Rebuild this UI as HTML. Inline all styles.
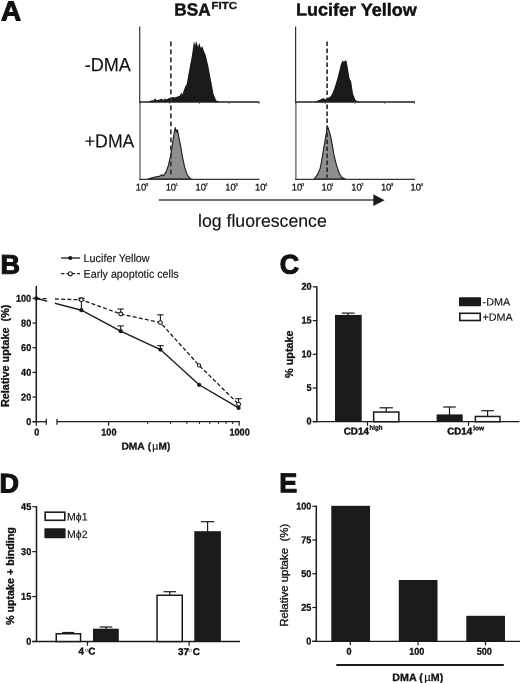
<!DOCTYPE html>
<html><head><meta charset="utf-8"><title>Figure</title>
<style>
html,body{margin:0;padding:0;background:#fff;}
svg{display:block;font-family:"Liberation Sans",sans-serif;}
.b{font-weight:bold;}
</style></head><body>
<svg width="520" height="683" viewBox="0 0 520 683">
<rect width="520" height="683" fill="#fff"/>

<text x="0.9" y="20.4" transform="rotate(0.04 0.9 20.4)" font-size="27.8" class="b" text-anchor="start" fill="#111"  stroke="#111" stroke-width="1.0" stroke-linejoin="round">A</text>
<text x="0.6" y="273.8" transform="rotate(0.04 0.6 273.8)" font-size="27" class="b" text-anchor="start" fill="#111"  stroke="#111" stroke-width="1.1" stroke-linejoin="round">B</text>
<text x="279.8" y="273.4" transform="rotate(0.04 279.8 273.4)" font-size="26.8" class="b" text-anchor="start" fill="#111"  stroke="#111" stroke-width="1.1" stroke-linejoin="round">C</text>
<text x="-0.6" y="492.4" transform="rotate(0.04 -0.6 492.4)" font-size="27" class="b" text-anchor="start" fill="#111"  stroke="#111" stroke-width="1.1" stroke-linejoin="round">D</text>
<text x="279.3" y="492.3" transform="rotate(0.04 279.3 492.3)" font-size="27" class="b" text-anchor="start" fill="#111"  stroke="#111" stroke-width="1.1" stroke-linejoin="round">E</text>
<text x="174.3" y="15.6" transform="rotate(0.04 174.3 15.6)" font-size="17.6" class="b" text-anchor="start" textLength="36.3" lengthAdjust="spacingAndGlyphs" fill="#111"  stroke="#111" stroke-width="0.45" stroke-linejoin="round">BSA</text>
<text x="211.6" y="8.9" transform="rotate(0.04 211.6 8.9)" font-size="10.2" class="b" text-anchor="start" textLength="25.5" lengthAdjust="spacingAndGlyphs" fill="#111"  stroke="#111" stroke-width="0.3" stroke-linejoin="round">FITC</text>
<text x="296" y="15.6" transform="rotate(0.04 296 15.6)" font-size="17.6" class="b" text-anchor="start" textLength="120.8" lengthAdjust="spacingAndGlyphs" fill="#111"  stroke="#111" stroke-width="0.45" stroke-linejoin="round">Lucifer Yellow</text>
<text x="84.7" y="71.3" transform="rotate(0.04 84.7 71.3)" font-size="19.1" text-anchor="start" textLength="46.2" lengthAdjust="spacingAndGlyphs" fill="#111"  stroke="#111" stroke-width="0.15" stroke-linejoin="round">-DMA</text>
<text x="84.8" y="147.5" transform="rotate(0.04 84.8 147.5)" font-size="19" text-anchor="start" textLength="49.6" lengthAdjust="spacingAndGlyphs" fill="#111"  stroke="#111" stroke-width="0.15" stroke-linejoin="round">+DMA</text>
<text x="198" y="226.7" transform="rotate(0.04 198 226.7)" font-size="17.7" text-anchor="start" textLength="128.8" lengthAdjust="spacingAndGlyphs" fill="#111"  stroke="#111" stroke-width="0.15" stroke-linejoin="round">log fluorescence</text>
<polygon points="147.8,102 151,100.6 153.5,100.2 155.3,98.2 156.5,100.3 159,99.8 161.8,98.4 163,100 165.5,98.6 166.5,99.6 168.5,98.2 171.1,97.8 173,96.9 175,97.6 177.5,96.5 180,95.5 181.2,92.5 182.4,94.6 185,86.9 186.7,84.3 189.3,69.6 191.9,55.8 194,41 195,45.4 196.2,41 198,47.1 199.2,42.8 200.9,48 202.3,46.2 204.4,52.3 205.7,54.9 208.3,66.1 210.9,80 213.5,93.8 216.1,100.2 219.6,102" fill="#1a1a1a"/>
<polygon points="147.8,179 153.8,177.3 159,176.4 162.1,174.7 163.4,175.9 166,172.1 168.5,165.2 170.8,154.8 172.9,141 174.6,130.6 175.3,127.5 176.3,132.3 177.4,129.7 178.9,137.5 180.7,146.1 182.4,156.5 184.6,166.9 187.1,174.7 190.2,178.7 191.9,179" fill="#8e8e8e" stroke="#1a1a1a" stroke-width="1.1" stroke-linejoin="round"/>
<line x1="170.9" y1="41.6" x2="170.9" y2="177.5" stroke="#2e2e2e" stroke-width="1.6" stroke-dasharray="4.6 3.4"/>
<line x1="139.7" y1="26.4" x2="139.7" y2="102.0" stroke="#333" stroke-width="1.2" />
<line x1="140.0" y1="102.0" x2="140.0" y2="179.9" stroke="#555" stroke-width="1.2" />
<line x1="139.2" y1="102.0" x2="259.5" y2="102.0" stroke="#222" stroke-width="1.3" />
<line x1="139.2" y1="179.3" x2="259.5" y2="179.3" stroke="#333" stroke-width="1.2" />
<line x1="139.7" y1="102.0" x2="139.7" y2="104.0" stroke="#555" stroke-width="0.8" />
<text x="135.79999999999998" y="190.4" transform="rotate(0.04 135.79999999999998 190.4)" font-size="9.7" text-anchor="start" textLength="10.5" lengthAdjust="spacingAndGlyphs" fill="#111" stroke="#111" stroke-width="0.25" stroke="#111" stroke-width="0.15" stroke-linejoin="round">10</text>
<text x="145.7" y="185.9" transform="rotate(0.04 145.7 185.9)" font-size="4.4" text-anchor="start" textLength="2.5" lengthAdjust="spacingAndGlyphs" fill="#111" stroke="#111" stroke-width="0.2" stroke="#111" stroke-width="0.15" stroke-linejoin="round">0</text>
<line x1="169.52499999999998" y1="102.0" x2="169.52499999999998" y2="104.0" stroke="#555" stroke-width="0.8" />
<text x="165.62499999999997" y="190.4" transform="rotate(0.04 165.62499999999997 190.4)" font-size="9.7" text-anchor="start" textLength="10.5" lengthAdjust="spacingAndGlyphs" fill="#111" stroke="#111" stroke-width="0.25" stroke="#111" stroke-width="0.15" stroke-linejoin="round">10</text>
<text x="175.52499999999998" y="185.9" transform="rotate(0.04 175.52499999999998 185.9)" font-size="4.4" text-anchor="start" textLength="2.5" lengthAdjust="spacingAndGlyphs" fill="#111" stroke="#111" stroke-width="0.2" stroke="#111" stroke-width="0.15" stroke-linejoin="round">1</text>
<line x1="199.35" y1="102.0" x2="199.35" y2="104.0" stroke="#555" stroke-width="0.8" />
<text x="195.45" y="190.4" transform="rotate(0.04 195.45 190.4)" font-size="9.7" text-anchor="start" textLength="10.5" lengthAdjust="spacingAndGlyphs" fill="#111" stroke="#111" stroke-width="0.25" stroke="#111" stroke-width="0.15" stroke-linejoin="round">10</text>
<text x="205.35" y="185.9" transform="rotate(0.04 205.35 185.9)" font-size="4.4" text-anchor="start" textLength="2.5" lengthAdjust="spacingAndGlyphs" fill="#111" stroke="#111" stroke-width="0.2" stroke="#111" stroke-width="0.15" stroke-linejoin="round">2</text>
<line x1="229.175" y1="102.0" x2="229.175" y2="104.0" stroke="#555" stroke-width="0.8" />
<text x="225.275" y="190.4" transform="rotate(0.04 225.275 190.4)" font-size="9.7" text-anchor="start" textLength="10.5" lengthAdjust="spacingAndGlyphs" fill="#111" stroke="#111" stroke-width="0.25" stroke="#111" stroke-width="0.15" stroke-linejoin="round">10</text>
<text x="235.175" y="185.9" transform="rotate(0.04 235.175 185.9)" font-size="4.4" text-anchor="start" textLength="2.5" lengthAdjust="spacingAndGlyphs" fill="#111" stroke="#111" stroke-width="0.2" stroke="#111" stroke-width="0.15" stroke-linejoin="round">3</text>
<line x1="259.0" y1="102.0" x2="259.0" y2="104.0" stroke="#555" stroke-width="0.8" />
<text x="255.1" y="190.4" transform="rotate(0.04 255.1 190.4)" font-size="9.7" text-anchor="start" textLength="10.5" lengthAdjust="spacingAndGlyphs" fill="#111" stroke="#111" stroke-width="0.25" stroke="#111" stroke-width="0.15" stroke-linejoin="round">10</text>
<text x="265.0" y="185.9" transform="rotate(0.04 265.0 185.9)" font-size="4.4" text-anchor="start" textLength="2.5" lengthAdjust="spacingAndGlyphs" fill="#111" stroke="#111" stroke-width="0.2" stroke="#111" stroke-width="0.15" stroke-linejoin="round">4</text>
<polygon points="314,102 319.2,99.9 323.5,98.1 325.3,99.4 327.9,98.1 330.5,96.4 332.2,93.8 334.8,86.9 337.4,78.3 339.6,69.6 340.8,64.4 342.6,60.6 344,61.8 345.2,60.6 346.6,61 347.8,67.9 349.5,78.3 351.2,81.7 353,93.8 355.6,100.2 359.9,102" fill="#1a1a1a"/>
<polygon points="314,179 317.5,174.7 320.1,168.6 321.8,160 323.5,149.6 325.3,139.2 326.7,131.4 327.5,126.2 328.7,129.7 330.5,135.8 332.2,144.4 333.9,154.8 336.5,165.2 339.1,173 341.7,177.3 345.2,179" fill="#8e8e8e" stroke="#1a1a1a" stroke-width="1.1" stroke-linejoin="round"/>
<line x1="327.1" y1="41.6" x2="327.1" y2="177.5" stroke="#262626" stroke-width="1.6" stroke-dasharray="4.4 2.6"/>
<line x1="295.6" y1="26.4" x2="295.6" y2="102.0" stroke="#333" stroke-width="1.2" />
<line x1="295.90000000000003" y1="102.0" x2="295.90000000000003" y2="179.9" stroke="#555" stroke-width="1.2" />
<line x1="295.1" y1="102.0" x2="415" y2="102.0" stroke="#222" stroke-width="1.3" />
<line x1="295.1" y1="179.3" x2="415" y2="179.3" stroke="#333" stroke-width="1.2" />
<line x1="295.6" y1="102.0" x2="295.6" y2="104.0" stroke="#555" stroke-width="0.8" />
<text x="291.70000000000005" y="190.4" transform="rotate(0.04 291.70000000000005 190.4)" font-size="9.7" text-anchor="start" textLength="10.5" lengthAdjust="spacingAndGlyphs" fill="#111" stroke="#111" stroke-width="0.25" stroke="#111" stroke-width="0.15" stroke-linejoin="round">10</text>
<text x="301.6" y="185.9" transform="rotate(0.04 301.6 185.9)" font-size="4.4" text-anchor="start" textLength="2.5" lengthAdjust="spacingAndGlyphs" fill="#111" stroke="#111" stroke-width="0.2" stroke="#111" stroke-width="0.15" stroke-linejoin="round">0</text>
<line x1="325.32500000000005" y1="102.0" x2="325.32500000000005" y2="104.0" stroke="#555" stroke-width="0.8" />
<text x="321.42500000000007" y="190.4" transform="rotate(0.04 321.42500000000007 190.4)" font-size="9.7" text-anchor="start" textLength="10.5" lengthAdjust="spacingAndGlyphs" fill="#111" stroke="#111" stroke-width="0.25" stroke="#111" stroke-width="0.15" stroke-linejoin="round">10</text>
<text x="331.32500000000005" y="185.9" transform="rotate(0.04 331.32500000000005 185.9)" font-size="4.4" text-anchor="start" textLength="2.5" lengthAdjust="spacingAndGlyphs" fill="#111" stroke="#111" stroke-width="0.2" stroke="#111" stroke-width="0.15" stroke-linejoin="round">1</text>
<line x1="355.05" y1="102.0" x2="355.05" y2="104.0" stroke="#555" stroke-width="0.8" />
<text x="351.15000000000003" y="190.4" transform="rotate(0.04 351.15000000000003 190.4)" font-size="9.7" text-anchor="start" textLength="10.5" lengthAdjust="spacingAndGlyphs" fill="#111" stroke="#111" stroke-width="0.25" stroke="#111" stroke-width="0.15" stroke-linejoin="round">10</text>
<text x="361.05" y="185.9" transform="rotate(0.04 361.05 185.9)" font-size="4.4" text-anchor="start" textLength="2.5" lengthAdjust="spacingAndGlyphs" fill="#111" stroke="#111" stroke-width="0.2" stroke="#111" stroke-width="0.15" stroke-linejoin="round">2</text>
<line x1="384.775" y1="102.0" x2="384.775" y2="104.0" stroke="#555" stroke-width="0.8" />
<text x="380.875" y="190.4" transform="rotate(0.04 380.875 190.4)" font-size="9.7" text-anchor="start" textLength="10.5" lengthAdjust="spacingAndGlyphs" fill="#111" stroke="#111" stroke-width="0.25" stroke="#111" stroke-width="0.15" stroke-linejoin="round">10</text>
<text x="390.775" y="185.9" transform="rotate(0.04 390.775 185.9)" font-size="4.4" text-anchor="start" textLength="2.5" lengthAdjust="spacingAndGlyphs" fill="#111" stroke="#111" stroke-width="0.2" stroke="#111" stroke-width="0.15" stroke-linejoin="round">3</text>
<line x1="414.5" y1="102.0" x2="414.5" y2="104.0" stroke="#555" stroke-width="0.8" />
<text x="410.6" y="190.4" transform="rotate(0.04 410.6 190.4)" font-size="9.7" text-anchor="start" textLength="10.5" lengthAdjust="spacingAndGlyphs" fill="#111" stroke="#111" stroke-width="0.25" stroke="#111" stroke-width="0.15" stroke-linejoin="round">10</text>
<text x="420.5" y="185.9" transform="rotate(0.04 420.5 185.9)" font-size="4.4" text-anchor="start" textLength="2.5" lengthAdjust="spacingAndGlyphs" fill="#111" stroke="#111" stroke-width="0.2" stroke="#111" stroke-width="0.15" stroke-linejoin="round">4</text>
<line x1="158.8" y1="200.0" x2="375" y2="200.0" stroke="#4a4a4a" stroke-width="1.5" />
<polygon points="373.3,194.3 384.6,200.2 373.3,206.1" fill="#1a1a1a"/>
<line x1="36.3" y1="286" x2="36.3" y2="422.3" stroke="#1a1a1a" stroke-width="1.5" />
<line x1="32.5" y1="421.7" x2="37" y2="421.7" stroke="#1a1a1a" stroke-width="1.2" />
<text x="31.2" y="425.09999999999997" transform="rotate(0.04 31.2 425.09999999999997)" font-size="9.9" class="b" text-anchor="end" textLength="5.06" lengthAdjust="spacingAndGlyphs" fill="#111"  stroke="#111" stroke-width="0.3" stroke-linejoin="round">0</text>
<line x1="32.5" y1="397.03999999999996" x2="37" y2="397.03999999999996" stroke="#1a1a1a" stroke-width="1.2" />
<text x="31.2" y="400.43999999999994" transform="rotate(0.04 31.2 400.43999999999994)" font-size="9.9" class="b" text-anchor="end" textLength="10.13" lengthAdjust="spacingAndGlyphs" fill="#111"  stroke="#111" stroke-width="0.3" stroke-linejoin="round">20</text>
<line x1="32.5" y1="372.38" x2="37" y2="372.38" stroke="#1a1a1a" stroke-width="1.2" />
<text x="31.2" y="375.78" transform="rotate(0.04 31.2 375.78)" font-size="9.9" class="b" text-anchor="end" textLength="10.13" lengthAdjust="spacingAndGlyphs" fill="#111"  stroke="#111" stroke-width="0.3" stroke-linejoin="round">40</text>
<line x1="32.5" y1="347.71999999999997" x2="37" y2="347.71999999999997" stroke="#1a1a1a" stroke-width="1.2" />
<text x="31.2" y="351.11999999999995" transform="rotate(0.04 31.2 351.11999999999995)" font-size="9.9" class="b" text-anchor="end" textLength="10.13" lengthAdjust="spacingAndGlyphs" fill="#111"  stroke="#111" stroke-width="0.3" stroke-linejoin="round">60</text>
<line x1="32.5" y1="323.06" x2="37" y2="323.06" stroke="#1a1a1a" stroke-width="1.2" />
<text x="31.2" y="326.46" transform="rotate(0.04 31.2 326.46)" font-size="9.9" class="b" text-anchor="end" textLength="10.13" lengthAdjust="spacingAndGlyphs" fill="#111"  stroke="#111" stroke-width="0.3" stroke-linejoin="round">80</text>
<line x1="32.5" y1="298.4" x2="37" y2="298.4" stroke="#1a1a1a" stroke-width="1.2" />
<text x="31.2" y="301.79999999999995" transform="rotate(0.04 31.2 301.79999999999995)" font-size="9.9" class="b" text-anchor="end" textLength="15.19" lengthAdjust="spacingAndGlyphs" fill="#111"  stroke="#111" stroke-width="0.3" stroke-linejoin="round">100</text>
<line x1="32.5" y1="421.7" x2="46.3" y2="421.7" stroke="#1a1a1a" stroke-width="1.3" />
<line x1="46.3" y1="418.7" x2="46.3" y2="424.7" stroke="#1a1a1a" stroke-width="1.2" />
<line x1="57" y1="418.7" x2="57" y2="424.7" stroke="#1a1a1a" stroke-width="1.2" />
<line x1="57" y1="421.7" x2="239.8" y2="421.7" stroke="#1a1a1a" stroke-width="1.3" />
<line x1="36.3" y1="421.7" x2="36.3" y2="425.7" stroke="#1a1a1a" stroke-width="1.2" />
<line x1="108.6" y1="421.7" x2="108.6" y2="425.7" stroke="#1a1a1a" stroke-width="1.2" />
<line x1="239.2" y1="421.7" x2="239.2" y2="425.7" stroke="#1a1a1a" stroke-width="1.2" />
<line x1="147.73389943631756" y1="421.7" x2="147.73389943631756" y2="424.0" stroke="#1a1a1a" stroke-width="1.0" />
<line x1="170.62576311355613" y1="421.7" x2="170.62576311355613" y2="424.0" stroke="#1a1a1a" stroke-width="1.0" />
<line x1="186.86779887263512" y1="421.7" x2="186.86779887263512" y2="424.0" stroke="#1a1a1a" stroke-width="1.0" />
<line x1="199.46610056368243" y1="421.7" x2="199.46610056368243" y2="424.0" stroke="#1a1a1a" stroke-width="1.0" />
<line x1="209.75966254987364" y1="421.7" x2="209.75966254987364" y2="424.0" stroke="#1a1a1a" stroke-width="1.0" />
<line x1="218.4627452018534" y1="421.7" x2="218.4627452018534" y2="424.0" stroke="#1a1a1a" stroke-width="1.0" />
<line x1="226.00169830895268" y1="421.7" x2="226.00169830895268" y2="424.0" stroke="#1a1a1a" stroke-width="1.0" />
<line x1="232.6515262271122" y1="421.7" x2="232.6515262271122" y2="424.0" stroke="#1a1a1a" stroke-width="1.0" />
<text x="36.7" y="435.4" transform="rotate(0.04 36.7 435.4)" font-size="9.9" class="b" text-anchor="middle" textLength="5.06" lengthAdjust="spacingAndGlyphs" fill="#111"  stroke="#111" stroke-width="0.3" stroke-linejoin="round">0</text>
<text x="108.89999999999999" y="435.4" transform="rotate(0.04 108.89999999999999 435.4)" font-size="9.9" class="b" text-anchor="middle" textLength="15.19" lengthAdjust="spacingAndGlyphs" fill="#111"  stroke="#111" stroke-width="0.3" stroke-linejoin="round">100</text>
<text x="239.6" y="435.4" transform="rotate(0.04 239.6 435.4)" font-size="9.9" class="b" text-anchor="middle" textLength="20.26" lengthAdjust="spacingAndGlyphs" fill="#111"  stroke="#111" stroke-width="0.3" stroke-linejoin="round">1000</text>
<text x="121.4" y="449.4" transform="rotate(0.04 121.4 449.4)" font-size="10" class="b" text-anchor="start" textLength="23.4" lengthAdjust="spacingAndGlyphs" fill="#111"  stroke="#111" stroke-width="0.3" stroke-linejoin="round">DMA</text>
<text x="147.7" y="449.4" transform="rotate(0.04 147.7 449.4)" font-size="10" class="b" text-anchor="start" fill="#111"  stroke="#111" stroke-width="0.3" stroke-linejoin="round">(</text>
<text x="152.2" y="449.4" transform="rotate(0.04 152.2 449.4)" font-size="10.4" text-anchor="start" fill="#111"  stroke="#111" stroke-width="0.2" stroke-linejoin="round">µ</text>
<text x="158.6" y="449.4" transform="rotate(0.04 158.6 449.4)" font-size="10" class="b" text-anchor="start" fill="#111"  stroke="#111" stroke-width="0.3" stroke-linejoin="round">M)</text>
<text transform="translate(8.9,407.0) rotate(-90)" xml:space="preserve" font-size="10" class="b" textLength="102.4" lengthAdjust="spacingAndGlyphs" fill="#111" stroke="#111" stroke-width="0.3">Relative uptake  (%)</text>
<line x1="81.4" y1="310.2" x2="81.4" y2="300.2" stroke="#1a1a1a" stroke-width="1.1" />
<line x1="78.2" y1="300.2" x2="84.60000000000001" y2="300.2" stroke="#1a1a1a" stroke-width="1.1" />
<line x1="120.7" y1="331.2" x2="120.7" y2="325.9" stroke="#1a1a1a" stroke-width="1.1" />
<line x1="117.5" y1="325.9" x2="123.9" y2="325.9" stroke="#1a1a1a" stroke-width="1.1" />
<line x1="160.4" y1="349.6" x2="160.4" y2="345.6" stroke="#1a1a1a" stroke-width="1.1" />
<line x1="157.20000000000002" y1="345.6" x2="163.6" y2="345.6" stroke="#1a1a1a" stroke-width="1.1" />
<line x1="81.4" y1="299.8" x2="81.4" y2="298.2" stroke="#1a1a1a" stroke-width="1.1" />
<line x1="78.2" y1="298.2" x2="84.60000000000001" y2="298.2" stroke="#1a1a1a" stroke-width="1.1" />
<line x1="120.7" y1="314.0" x2="120.7" y2="309.0" stroke="#1a1a1a" stroke-width="1.1" />
<line x1="117.5" y1="309.0" x2="123.9" y2="309.0" stroke="#1a1a1a" stroke-width="1.1" />
<line x1="160.4" y1="322.6" x2="160.4" y2="314.8" stroke="#1a1a1a" stroke-width="1.1" />
<line x1="157.20000000000002" y1="314.8" x2="163.6" y2="314.8" stroke="#1a1a1a" stroke-width="1.1" />
<line x1="238.6" y1="404.2" x2="238.6" y2="398.7" stroke="#1a1a1a" stroke-width="1.1" />
<line x1="235.4" y1="398.7" x2="241.79999999999998" y2="398.7" stroke="#1a1a1a" stroke-width="1.1" />
<polyline points="36.3,298.4 81.4,310.2 120.7,331.2 160.4,349.6 199.1,384.8 238.6,407.9" fill="none" stroke="#1a1a1a" stroke-width="1.4"/>
<polyline points="36.3,298.4 81.4,299.8 120.7,314.0 160.4,322.6 199.1,365.4 238.6,404.2" fill="none" stroke="#1a1a1a" stroke-width="1.3" stroke-dasharray="4 2.2"/>
<rect x="47.2" y="294" width="7.6" height="12" fill="#fff"/>
<circle cx="36.3" cy="298.4" r="2.1" fill="#1a1a1a"/>
<circle cx="81.4" cy="310.2" r="2.1" fill="#1a1a1a"/>
<circle cx="120.7" cy="331.2" r="2.1" fill="#1a1a1a"/>
<circle cx="160.4" cy="349.6" r="2.1" fill="#1a1a1a"/>
<circle cx="199.1" cy="384.8" r="2.1" fill="#1a1a1a"/>
<circle cx="238.6" cy="407.9" r="2.1" fill="#1a1a1a"/>
<circle cx="81.4" cy="299.8" r="1.9" fill="#fff" stroke="#1a1a1a" stroke-width="1.1"/>
<circle cx="120.7" cy="314.0" r="1.9" fill="#fff" stroke="#1a1a1a" stroke-width="1.1"/>
<circle cx="160.4" cy="322.6" r="1.9" fill="#fff" stroke="#1a1a1a" stroke-width="1.1"/>
<circle cx="199.1" cy="365.4" r="1.6" fill="#fff" stroke="#1a1a1a" stroke-width="1.1"/>
<circle cx="238.6" cy="404.2" r="1.9" fill="#fff" stroke="#1a1a1a" stroke-width="1.1"/>
<line x1="61" y1="258" x2="80" y2="258" stroke="#1a1a1a" stroke-width="1.3" />
<circle cx="70.3" cy="258" r="2.1" fill="#1a1a1a"/>
<text x="83.6" y="262" transform="rotate(0.04 83.6 262)" font-size="11.3" text-anchor="start" textLength="66" lengthAdjust="spacingAndGlyphs" fill="#111"  stroke="#111" stroke-width="0.15" stroke-linejoin="round">Lucifer Yellow</text>
<line x1="61" y1="273.7" x2="80" y2="273.7" stroke="#1a1a1a" stroke-width="1.3" stroke-dasharray="3.4 2"/>
<circle cx="70.3" cy="273.7" r="2" fill="#fff" stroke="#1a1a1a" stroke-width="1.1"/>
<text x="83.6" y="277.8" transform="rotate(0.04 83.6 277.8)" font-size="11.3" text-anchor="start" textLength="95" lengthAdjust="spacingAndGlyphs" fill="#111"  stroke="#111" stroke-width="0.15" stroke-linejoin="round">Early apoptotic cells</text>
<line x1="316.8" y1="286.29999999999995" x2="316.8" y2="422.3" stroke="#1a1a1a" stroke-width="1.5" />
<line x1="312.8" y1="421.7" x2="317" y2="421.7" stroke="#1a1a1a" stroke-width="1.2" />
<text x="311.6" y="424.59999999999997" transform="rotate(0.04 311.6 424.59999999999997)" font-size="9.9" class="b" text-anchor="end" textLength="5.06" lengthAdjust="spacingAndGlyphs" fill="#111"  stroke="#111" stroke-width="0.3" stroke-linejoin="round">0</text>
<line x1="312.8" y1="388.0" x2="317" y2="388.0" stroke="#1a1a1a" stroke-width="1.2" />
<text x="311.6" y="390.9" transform="rotate(0.04 311.6 390.9)" font-size="9.9" class="b" text-anchor="end" textLength="5.06" lengthAdjust="spacingAndGlyphs" fill="#111"  stroke="#111" stroke-width="0.3" stroke-linejoin="round">5</text>
<line x1="312.8" y1="354.29999999999995" x2="317" y2="354.29999999999995" stroke="#1a1a1a" stroke-width="1.2" />
<text x="311.6" y="357.19999999999993" transform="rotate(0.04 311.6 357.19999999999993)" font-size="9.9" class="b" text-anchor="end" textLength="10.13" lengthAdjust="spacingAndGlyphs" fill="#111"  stroke="#111" stroke-width="0.3" stroke-linejoin="round">10</text>
<line x1="312.8" y1="320.59999999999997" x2="317" y2="320.59999999999997" stroke="#1a1a1a" stroke-width="1.2" />
<text x="311.6" y="323.49999999999994" transform="rotate(0.04 311.6 323.49999999999994)" font-size="9.9" class="b" text-anchor="end" textLength="10.13" lengthAdjust="spacingAndGlyphs" fill="#111"  stroke="#111" stroke-width="0.3" stroke-linejoin="round">15</text>
<line x1="312.8" y1="286.9" x2="317" y2="286.9" stroke="#1a1a1a" stroke-width="1.2" />
<text x="311.6" y="289.79999999999995" transform="rotate(0.04 311.6 289.79999999999995)" font-size="9.9" class="b" text-anchor="end" textLength="10.13" lengthAdjust="spacingAndGlyphs" fill="#111"  stroke="#111" stroke-width="0.3" stroke-linejoin="round">20</text>
<line x1="312.8" y1="421.7" x2="519.5" y2="421.7" stroke="#1a1a1a" stroke-width="1.3" />
<line x1="367.5" y1="421.7" x2="367.5" y2="425.9" stroke="#1a1a1a" stroke-width="1.2" />
<line x1="468.5" y1="421.7" x2="468.5" y2="425.9" stroke="#1a1a1a" stroke-width="1.2" />
<line x1="348.1" y1="316" x2="348.1" y2="313.1" stroke="#1a1a1a" stroke-width="1.2" />
<line x1="341.70000000000005" y1="313.1" x2="354.5" y2="313.1" stroke="#1a1a1a" stroke-width="1.2" />
<rect x="335" y="314.9" width="26.69999999999999" height="106.80000000000001" fill="#1a1a1a"/>
<line x1="386.2" y1="412.3" x2="386.2" y2="407.8" stroke="#1a1a1a" stroke-width="1.2" />
<line x1="379.5" y1="407.8" x2="392.9" y2="407.8" stroke="#1a1a1a" stroke-width="1.2" />
<rect x="373.65" y="412.05" width="25.200000000000045" height="9.649999999999977" fill="#fff" stroke="#1a1a1a" stroke-width="1.5"/>
<line x1="449.5" y1="415.4" x2="449.5" y2="407" stroke="#1a1a1a" stroke-width="1.2" />
<line x1="443.2" y1="407" x2="455.8" y2="407" stroke="#1a1a1a" stroke-width="1.2" />
<rect x="436.6" y="414.4" width="26.099999999999966" height="7.300000000000011" fill="#1a1a1a"/>
<line x1="487.6" y1="416.7" x2="487.6" y2="410.7" stroke="#1a1a1a" stroke-width="1.2" />
<line x1="481.3" y1="410.7" x2="493.90000000000003" y2="410.7" stroke="#1a1a1a" stroke-width="1.2" />
<rect x="475.35" y="416.45" width="24.599999999999966" height="5.25" fill="#fff" stroke="#1a1a1a" stroke-width="1.5"/>
<text x="343.8" y="434.4" transform="rotate(0.04 343.8 434.4)" font-size="9.8" class="b" text-anchor="start" fill="#111"  stroke="#111" stroke-width="0.45" stroke-linejoin="round">CD14</text>
<text x="369.6" y="429.7" transform="rotate(0.04 369.6 429.7)" font-size="6.5" class="b" text-anchor="start" textLength="13" lengthAdjust="spacingAndGlyphs" fill="#111"  stroke="#111" stroke-width="0.3" stroke-linejoin="round">high</text>
<text x="447.2" y="434.4" transform="rotate(0.04 447.2 434.4)" font-size="9.8" class="b" text-anchor="start" fill="#111"  stroke="#111" stroke-width="0.45" stroke-linejoin="round">CD14</text>
<text x="473.2" y="430.2" transform="rotate(0.04 473.2 430.2)" font-size="6.5" class="b" text-anchor="start" textLength="11" lengthAdjust="spacingAndGlyphs" fill="#111"  stroke="#111" stroke-width="0.3" stroke-linejoin="round">low</text>
<text transform="translate(293.4,378.0) rotate(-90)" xml:space="preserve" font-size="10" class="b" textLength="47.6" lengthAdjust="spacingAndGlyphs" fill="#111" stroke="#111" stroke-width="0.3">% uptake</text>
<rect x="459" y="297.2" width="22" height="9" rx="0.8" fill="#1a1a1a"/>
<rect x="459.8" y="313.3" width="20.4" height="7.2" fill="#fff" stroke="#1a1a1a" stroke-width="1.6"/>
<text x="482.6" y="305.5" transform="rotate(0.04 482.6 305.5)" font-size="10.6" text-anchor="start" textLength="27.6" lengthAdjust="spacingAndGlyphs" fill="#111"  stroke="#111" stroke-width="0.15" stroke-linejoin="round">-DMA</text>
<text x="482.4" y="320.8" transform="rotate(0.04 482.4 320.8)" font-size="10.6" text-anchor="start" textLength="30.2" lengthAdjust="spacingAndGlyphs" fill="#111"  stroke="#111" stroke-width="0.15" stroke-linejoin="round">+DMA</text>
<line x1="36.5" y1="506.09999999999997" x2="36.5" y2="642.1" stroke="#1a1a1a" stroke-width="1.5" />
<line x1="32.3" y1="641.5" x2="36.5" y2="641.5" stroke="#1a1a1a" stroke-width="1.2" />
<text x="31.2" y="644.8" transform="rotate(0.04 31.2 644.8)" font-size="9.9" class="b" text-anchor="end" textLength="5.06" lengthAdjust="spacingAndGlyphs" fill="#111"  stroke="#111" stroke-width="0.3" stroke-linejoin="round">0</text>
<line x1="32.3" y1="596.5666666666666" x2="36.5" y2="596.5666666666666" stroke="#1a1a1a" stroke-width="1.2" />
<text x="31.2" y="599.8666666666666" transform="rotate(0.04 31.2 599.8666666666666)" font-size="9.9" class="b" text-anchor="end" textLength="10.13" lengthAdjust="spacingAndGlyphs" fill="#111"  stroke="#111" stroke-width="0.3" stroke-linejoin="round">15</text>
<line x1="32.3" y1="551.6333333333333" x2="36.5" y2="551.6333333333333" stroke="#1a1a1a" stroke-width="1.2" />
<text x="31.2" y="554.9333333333333" transform="rotate(0.04 31.2 554.9333333333333)" font-size="9.9" class="b" text-anchor="end" textLength="10.13" lengthAdjust="spacingAndGlyphs" fill="#111"  stroke="#111" stroke-width="0.3" stroke-linejoin="round">30</text>
<line x1="32.3" y1="506.7" x2="36.5" y2="506.7" stroke="#1a1a1a" stroke-width="1.2" />
<text x="31.2" y="510.0" transform="rotate(0.04 31.2 510.0)" font-size="9.9" class="b" text-anchor="end" textLength="10.13" lengthAdjust="spacingAndGlyphs" fill="#111"  stroke="#111" stroke-width="0.3" stroke-linejoin="round">45</text>
<line x1="32.3" y1="641.5" x2="240" y2="641.5" stroke="#1a1a1a" stroke-width="1.3" />
<line x1="87.5" y1="641.5" x2="87.5" y2="645.7" stroke="#1a1a1a" stroke-width="1.2" />
<line x1="189.1" y1="641.5" x2="189.1" y2="645.7" stroke="#1a1a1a" stroke-width="1.2" />
<line x1="68.2" y1="634" x2="68.2" y2="632.5" stroke="#1a1a1a" stroke-width="1.2" />
<line x1="62.2" y1="632.5" x2="74.2" y2="632.5" stroke="#1a1a1a" stroke-width="1.2" />
<rect x="56.25" y="633.75" width="24.299999999999997" height="7.75" fill="#fff" stroke="#1a1a1a" stroke-width="1.5"/>
<line x1="106" y1="629.7" x2="106" y2="627" stroke="#1a1a1a" stroke-width="1.2" />
<line x1="99.7" y1="627" x2="112.3" y2="627" stroke="#1a1a1a" stroke-width="1.2" />
<rect x="93" y="628.7" width="25.799999999999997" height="12.799999999999955" fill="#1a1a1a"/>
<line x1="169.8" y1="595.5" x2="169.8" y2="591.7" stroke="#1a1a1a" stroke-width="1.2" />
<line x1="163.5" y1="591.7" x2="176.10000000000002" y2="591.7" stroke="#1a1a1a" stroke-width="1.2" />
<rect x="157.05" y="595.25" width="25.19999999999999" height="46.25" fill="#fff" stroke="#1a1a1a" stroke-width="1.5"/>
<line x1="207.6" y1="532.2" x2="207.6" y2="521.7" stroke="#1a1a1a" stroke-width="1.2" />
<line x1="201.0" y1="521.7" x2="214.2" y2="521.7" stroke="#1a1a1a" stroke-width="1.2" />
<rect x="194.3" y="531.2" width="26.599999999999994" height="110.29999999999995" fill="#1a1a1a"/>
<text x="78.6" y="654.6" transform="rotate(0.04 78.6 654.6)" font-size="9.9" class="b" text-anchor="start" fill="#111"  stroke="#111" stroke-width="0.4" stroke-linejoin="round">4</text>
<text x="84.2" y="654.2" transform="rotate(0.04 84.2 654.2)" font-size="13" text-anchor="start" fill="#444" >◦</text>
<text x="88.3" y="654.6" transform="rotate(0.04 88.3 654.6)" font-size="9.9" class="b" text-anchor="start" fill="#111"  stroke="#111" stroke-width="0.4" stroke-linejoin="round">C</text>
<text x="177.9" y="654.9" transform="rotate(0.04 177.9 654.9)" font-size="9.9" class="b" text-anchor="start" fill="#111"  stroke="#111" stroke-width="0.4" stroke-linejoin="round">37</text>
<text x="187.7" y="654.5" transform="rotate(0.04 187.7 654.5)" font-size="13" text-anchor="start" fill="#444" >◦</text>
<text x="192.8" y="654.9" transform="rotate(0.04 192.8 654.9)" font-size="9.9" class="b" text-anchor="start" fill="#111"  stroke="#111" stroke-width="0.4" stroke-linejoin="round">C</text>
<text transform="translate(13.5,625.1) rotate(-90)" xml:space="preserve" font-size="10" class="b" textLength="98.0" lengthAdjust="spacingAndGlyphs" fill="#111" stroke="#111" stroke-width="0.3">% uptake + binding</text>
<rect x="45.2" y="512.2" width="19.6" height="8.1" fill="#fff" stroke="#1a1a1a" stroke-width="1.6"/>
<rect x="44.4" y="528.3" width="21.2" height="10" rx="0.8" fill="#1a1a1a"/>
<text x="67" y="520.6" transform="rotate(0.04 67 520.6)" font-size="10.8" text-anchor="start" textLength="20.5" lengthAdjust="spacingAndGlyphs" fill="#111"  stroke="#111" stroke-width="0.15" stroke-linejoin="round">Mϕ1</text>
<text x="67" y="538" transform="rotate(0.04 67 538)" font-size="10.8" text-anchor="start" textLength="20.5" lengthAdjust="spacingAndGlyphs" fill="#111"  stroke="#111" stroke-width="0.15" stroke-linejoin="round">Mϕ2</text>
<line x1="316.3" y1="505.59999999999997" x2="316.3" y2="641.9" stroke="#1a1a1a" stroke-width="1.5" />
<line x1="312.3" y1="641.3" x2="316.3" y2="641.3" stroke="#1a1a1a" stroke-width="1.2" />
<text x="311.4" y="644.5999999999999" transform="rotate(0.04 311.4 644.5999999999999)" font-size="9.9" class="b" text-anchor="end" textLength="5.06" lengthAdjust="spacingAndGlyphs" fill="#111"  stroke="#111" stroke-width="0.3" stroke-linejoin="round">0</text>
<line x1="312.3" y1="607.525" x2="316.3" y2="607.525" stroke="#1a1a1a" stroke-width="1.2" />
<text x="311.4" y="610.8249999999999" transform="rotate(0.04 311.4 610.8249999999999)" font-size="9.9" class="b" text-anchor="end" textLength="10.13" lengthAdjust="spacingAndGlyphs" fill="#111"  stroke="#111" stroke-width="0.3" stroke-linejoin="round">25</text>
<line x1="312.3" y1="573.75" x2="316.3" y2="573.75" stroke="#1a1a1a" stroke-width="1.2" />
<text x="311.4" y="577.05" transform="rotate(0.04 311.4 577.05)" font-size="9.9" class="b" text-anchor="end" textLength="10.13" lengthAdjust="spacingAndGlyphs" fill="#111"  stroke="#111" stroke-width="0.3" stroke-linejoin="round">50</text>
<line x1="312.3" y1="539.9749999999999" x2="316.3" y2="539.9749999999999" stroke="#1a1a1a" stroke-width="1.2" />
<text x="311.4" y="543.2749999999999" transform="rotate(0.04 311.4 543.2749999999999)" font-size="9.9" class="b" text-anchor="end" textLength="10.13" lengthAdjust="spacingAndGlyphs" fill="#111"  stroke="#111" stroke-width="0.3" stroke-linejoin="round">75</text>
<line x1="312.3" y1="506.2" x2="316.3" y2="506.2" stroke="#1a1a1a" stroke-width="1.2" />
<text x="311.4" y="509.5" transform="rotate(0.04 311.4 509.5)" font-size="9.9" class="b" text-anchor="end" textLength="15.19" lengthAdjust="spacingAndGlyphs" fill="#111"  stroke="#111" stroke-width="0.3" stroke-linejoin="round">100</text>
<line x1="312.3" y1="641.3" x2="520" y2="641.3" stroke="#1a1a1a" stroke-width="1.3" />
<rect x="331.3" y="505.8" width="38.69999999999999" height="135.49999999999994" fill="#1a1a1a"/>
<rect x="398.8" y="580" width="38.69999999999999" height="61.299999999999955" fill="#1a1a1a"/>
<rect x="466.3" y="615.8" width="38.69999999999999" height="25.5" fill="#1a1a1a"/>
<line x1="350.3" y1="641.3" x2="350.3" y2="645.3" stroke="#1a1a1a" stroke-width="1.2" />
<text x="349.1" y="654.7" transform="rotate(0.04 349.1 654.7)" font-size="9.9" class="b" text-anchor="middle" textLength="5.06" lengthAdjust="spacingAndGlyphs" fill="#111"  stroke="#111" stroke-width="0.3" stroke-linejoin="round">0</text>
<line x1="418" y1="641.3" x2="418" y2="645.3" stroke="#1a1a1a" stroke-width="1.2" />
<text x="416.8" y="654.7" transform="rotate(0.04 416.8 654.7)" font-size="9.9" class="b" text-anchor="middle" textLength="15.19" lengthAdjust="spacingAndGlyphs" fill="#111"  stroke="#111" stroke-width="0.3" stroke-linejoin="round">100</text>
<line x1="485.5" y1="641.3" x2="485.5" y2="645.3" stroke="#1a1a1a" stroke-width="1.2" />
<text x="484.3" y="654.7" transform="rotate(0.04 484.3 654.7)" font-size="9.9" class="b" text-anchor="middle" textLength="15.19" lengthAdjust="spacingAndGlyphs" fill="#111"  stroke="#111" stroke-width="0.3" stroke-linejoin="round">500</text>
<line x1="336.3" y1="665" x2="503.8" y2="665" stroke="#1a1a1a" stroke-width="1.8" />
<text x="392.3" y="680.9" transform="rotate(0.04 392.3 680.9)" font-size="10.7" class="b" text-anchor="start" fill="#111"  stroke="#111" stroke-width="0.3" stroke-linejoin="round">DMA (</text>
<text x="424.3" y="680.9" transform="rotate(0.04 424.3 680.9)" font-size="11.2" text-anchor="start" fill="#111"  stroke="#111" stroke-width="0.2" stroke-linejoin="round">µ</text>
<text x="430.8" y="680.9" transform="rotate(0.04 430.8 680.9)" font-size="10.7" class="b" text-anchor="start" fill="#111"  stroke="#111" stroke-width="0.3" stroke-linejoin="round">M)</text>
<text transform="translate(288.2,626.8) rotate(-90)" xml:space="preserve" font-size="10.5" textLength="103.0" lengthAdjust="spacingAndGlyphs" fill="#111" stroke="#111" stroke-width="0.3">Relative uptake  (%)</text>
</svg></body></html>
